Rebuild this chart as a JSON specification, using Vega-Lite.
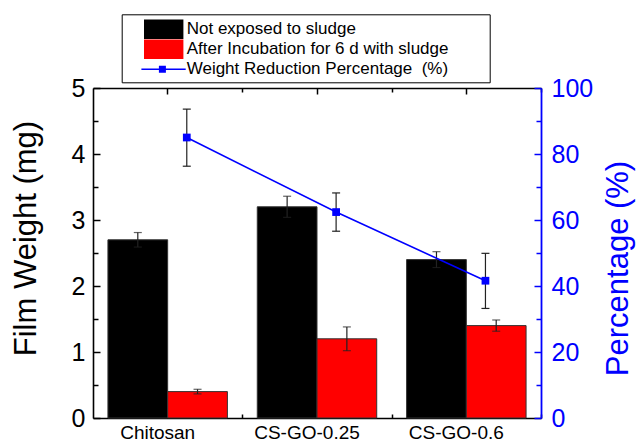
{
  "$schema": "https://vega.github.io/schema/vega-lite/v6.json",
  "width": 448,
  "height": 330,
  "autosize": {"type": "none"},
  "padding": {"left": 93, "top": 88, "right": 95, "bottom": 23},
  "background": "white",
  "config": {
    "view": {"stroke": null},
    "font": "Liberation Sans",
    "axis": {"grid": false, "labelOverlap": false, "labelFlush": false}
  },
  "datasets": {
    "bars": [
      {"cat": "Chitosan", "series": "Not exposed to sludge", "w": 2.7, "lo": 2.59, "hi": 2.81},
      {"cat": "Chitosan", "series": "After Incubation for 6 d with sludge", "w": 0.4, "lo": 0.365, "hi": 0.435},
      {"cat": "CS-GO-0.25", "series": "Not exposed to sludge", "w": 3.2, "lo": 3.04, "hi": 3.36},
      {"cat": "CS-GO-0.25", "series": "After Incubation for 6 d with sludge", "w": 1.2, "lo": 1.02, "hi": 1.38},
      {"cat": "CS-GO-0.6", "series": "Not exposed to sludge", "w": 2.4, "lo": 2.28, "hi": 2.52},
      {"cat": "CS-GO-0.6", "series": "After Incubation for 6 d with sludge", "w": 1.4, "lo": 1.315, "hi": 1.485}
    ],
    "pct": [
      {"cat": "Chitosan", "p": 85, "lo": 76.3, "hi": 93.6},
      {"cat": "CS-GO-0.25", "p": 62.4, "lo": 56.6, "hi": 68.2},
      {"cat": "CS-GO-0.6", "p": 41.6, "lo": 33.2, "hi": 49.9}
    ]
  },
  "layer": [
    {
      "data": {"name": "bars"},
      "mark": {"type": "bar", "stroke": "#333333", "strokeWidth": 1},
      "encoding": {
        "x": {
          "field": "cat", "type": "nominal", "sort": null,
          "scale": {"domain": ["Chitosan", "CS-GO-0.25", "CS-GO-0.6"], "paddingInner": 0.2, "paddingOuter": 0.1},
          "axis": {
            "orient": "bottom", "title": null, "labelAngle": 0, "labelFontSize": 19, "labelColor": "#000000",
            "labelOffset": -10, "labelPadding": 11, "tickSize": -6, "tickWidth": 1.5, "tickColor": "#000000",
            "domainColor": "#000000", "domainWidth": 1.6
          }
        },
        "xOffset": {
          "field": "series", "type": "nominal", "sort": null,
          "scale": {"domain": ["Not exposed to sludge", "After Incubation for 6 d with sludge"], "paddingInner": 0, "paddingOuter": 0}
        },
        "y": {
          "field": "w", "type": "quantitative",
          "scale": {"domain": [0, 5], "nice": false, "zero": true},
          "axis": {
            "orient": "left", "values": [0, 1, 2, 3, 4, 5], "title": "Film Weight (mg)",
            "titleFontSize": 31, "titleFontWeight": "normal", "titleColor": "#000000",
            "titleX": -67, "titleY": 150, "titleAngle": 270, "titleBaseline": "middle",
            "labelFontSize": 25, "labelColor": "#000000", "labelPadding": 15,
            "tickSize": -7, "tickWidth": 1.5, "tickColor": "#000000",
            "domainColor": "#000000", "domainWidth": 1.6
          }
        },
        "fill": {
          "field": "series", "type": "nominal",
          "scale": {
            "domain": ["Not exposed to sludge", "After Incubation for 6 d with sludge"],
            "range": ["#000000", "#ff0000"]
          },
          "legend": null
        }
      }
    },
    {
      "data": {"name": "bars"},
      "mark": {"type": "point", "filled": true, "opacity": 0},
      "encoding": {
        "x": {"field": "cat", "type": "nominal", "sort": null, "axis": null},
        "xOffset": {"field": "series", "type": "nominal", "sort": null},
        "y": {"field": "w", "type": "quantitative", "scale": {"domain": [0, 5], "nice": false}, "axis": null},
        "color": {
          "field": "series", "type": "nominal",
          "scale": {
            "domain": ["Not exposed to sludge", "After Incubation for 6 d with sludge", "Weight Reduction Percentage\u00a0 (%)"],
            "range": ["#000000", "#ff0000", "#0000ff"]
          },
          "legend": {
            "orient": "none", "legendX": 28.7, "legendY": -73.7, "direction": "vertical",
            "title": "\u00a0", "titleOrient": "right", "titlePadding": 36, "titleFontSize": 2,
            "padding": 5, "strokeColor": "#000000", "fillColor": "#ffffff",
            "labelFontSize": 17, "labelColor": "#000000", "labelLimit": 0,
            "symbolSize": 400, "labelOffset": 40, "rowPadding": -0.5, "symbolOpacity": 1,
            "symbolStrokeWidth": 0
          }
        },
        "shape": {
          "field": "series", "type": "nominal",
          "scale": {
            "domain": ["Not exposed to sludge", "After Incubation for 6 d with sludge", "Weight Reduction Percentage\u00a0 (%)"],
            "range": ["M0.73,-0.98H4.67V0.98H0.73Z", "M0.73,-0.98H4.67V0.98H0.73Z", "M0.47,-0.075H4.9V0.075H0.47Z M2.22,-0.35H2.92V0.35H2.22Z"]
          },
          "legend": {
            "orient": "none", "legendX": 28.7, "legendY": -73.7, "direction": "vertical",
            "title": "\u00a0", "titleOrient": "right", "titlePadding": 36, "titleFontSize": 2,
            "padding": 5, "strokeColor": "#000000", "fillColor": "#ffffff",
            "labelFontSize": 17, "labelColor": "#000000", "labelLimit": 0,
            "symbolSize": 400, "labelOffset": 40, "rowPadding": -0.5, "symbolOpacity": 1,
            "symbolStrokeWidth": 0
          }
        }
      }
    },
    {
      "data": {"name": "bars"},
      "mark": {"type": "rule", "color": "#222222", "strokeWidth": 1.2},
      "encoding": {
        "x": {
          "field": "cat", "type": "nominal", "sort": null,
          "axis": {
            "orient": "top", "title": null, "labels": false, "tickSize": -6, "tickWidth": 1.5,
            "tickColor": "#000000", "domainColor": "#000000", "domainWidth": 1.6
          }
        },
        "xOffset": {"field": "series", "type": "nominal", "sort": null},
        "y": {
          "field": "lo", "type": "quantitative",
          "scale": {"domain": [0, 5], "nice": false, "zero": true},
          "axis": {
            "orient": "left", "values": [0.5, 1.5, 2.5, 3.5, 4.5], "title": null, "labels": false,
            "domain": false, "tickSize": -5, "tickWidth": 1.5, "tickColor": "#000000"
          }
        },
        "y2": {"field": "hi"}
      }
    },
    {
      "data": {"name": "bars"},
      "mark": {"type": "tick", "orient": "horizontal", "size": 8, "thickness": 1.2, "color": "#222222"},
      "encoding": {
        "x": {
          "field": "cat", "type": "nominal", "sort": null,
          "axis": {
            "orient": "bottom", "title": null, "labels": false, "domain": false, "tickSize": -4,
            "tickWidth": 1.5, "tickColor": "#000000", "tickOffset": 74.67
          }
        },
        "xOffset": {"field": "series", "type": "nominal", "sort": null},
        "y": {"field": "lo", "type": "quantitative", "scale": {"domain": [0, 5], "nice": false}, "axis": null}
      }
    },
    {
      "data": {"name": "bars"},
      "mark": {"type": "tick", "orient": "horizontal", "size": 8, "thickness": 1.2, "color": "#222222"},
      "encoding": {
        "x": {
          "field": "cat", "type": "nominal", "sort": null,
          "axis": {
            "orient": "top", "title": null, "labels": false, "domain": false, "tickSize": -4,
            "tickWidth": 1.5, "tickColor": "#000000", "tickOffset": 74.67
          }
        },
        "xOffset": {"field": "series", "type": "nominal", "sort": null},
        "y": {"field": "hi", "type": "quantitative", "scale": {"domain": [0, 5], "nice": false}, "axis": null}
      }
    },
    {
      "data": {"name": "pct"},
      "mark": {"type": "rule", "color": "#222222", "strokeWidth": 1.2},
      "encoding": {
        "x": {"field": "cat", "type": "nominal", "sort": null, "bandPosition": 0.66, "axis": null},
        "y": {
          "field": "lo", "type": "quantitative",
          "scale": {"domain": [0, 100], "nice": false, "zero": true},
          "axis": {
            "orient": "right", "values": [10, 30, 50, 70, 90], "title": null, "labels": false,
            "domain": false, "tickSize": -5, "tickWidth": 1.5, "tickColor": "#0000ff"
          }
        },
        "y2": {"field": "hi"}
      }
    },
    {
      "data": {"name": "pct"},
      "mark": {"type": "point", "shape": "M-1,0H1", "size": 64, "filled": false, "color": "#222222", "strokeWidth": 1.2, "opacity": 1},
      "encoding": {
        "x": {"field": "cat", "type": "nominal", "sort": null, "bandPosition": 0.66, "axis": null},
        "y": {"field": "lo", "type": "quantitative", "scale": {"domain": [0, 100], "nice": false}, "axis": null}
      }
    },
    {
      "data": {"name": "pct"},
      "mark": {"type": "point", "shape": "M-1,0H1", "size": 64, "filled": false, "color": "#222222", "strokeWidth": 1.2, "opacity": 1},
      "encoding": {
        "x": {"field": "cat", "type": "nominal", "sort": null, "bandPosition": 0.66, "axis": null},
        "y": {"field": "hi", "type": "quantitative", "scale": {"domain": [0, 100], "nice": false}, "axis": null}
      }
    },
    {
      "data": {"name": "pct"},
      "mark": {"type": "line", "color": "#0000ff", "strokeWidth": 1.6},
      "encoding": {
        "x": {"field": "cat", "type": "nominal", "sort": null, "bandPosition": 0.66, "axis": null},
        "y": {
          "field": "p", "type": "quantitative",
          "scale": {"domain": [0, 100], "nice": false, "zero": true},
          "axis": {
            "orient": "right", "values": [0, 20, 40, 60, 80, 100], "title": "Percentage (%)",
            "titleFontSize": 31, "titleFontWeight": "normal", "titleColor": "#0000ff",
            "titleX": 77, "titleY": 180, "titleAngle": 270, "titleBaseline": "middle",
            "labelFontSize": 25, "labelColor": "#0000ff", "labelPadding": 17,
            "tickSize": -7, "tickWidth": 1.5, "tickColor": "#0000ff",
            "domainColor": "#0000ff", "domainWidth": 1.8
          }
        }
      }
    },
    {
      "data": {"name": "pct"},
      "mark": {"type": "point", "shape": "square", "filled": true, "size": 60, "color": "#0000ff", "opacity": 1},
      "encoding": {
        "x": {"field": "cat", "type": "nominal", "sort": null, "bandPosition": 0.66, "axis": null},
        "y": {"field": "p", "type": "quantitative", "scale": {"domain": [0, 100], "nice": false}, "axis": null}
      }
    }
  ],
  "resolve": {"scale": {"y": "independent"}, "axis": {"x": "independent", "y": "independent"}}
}
